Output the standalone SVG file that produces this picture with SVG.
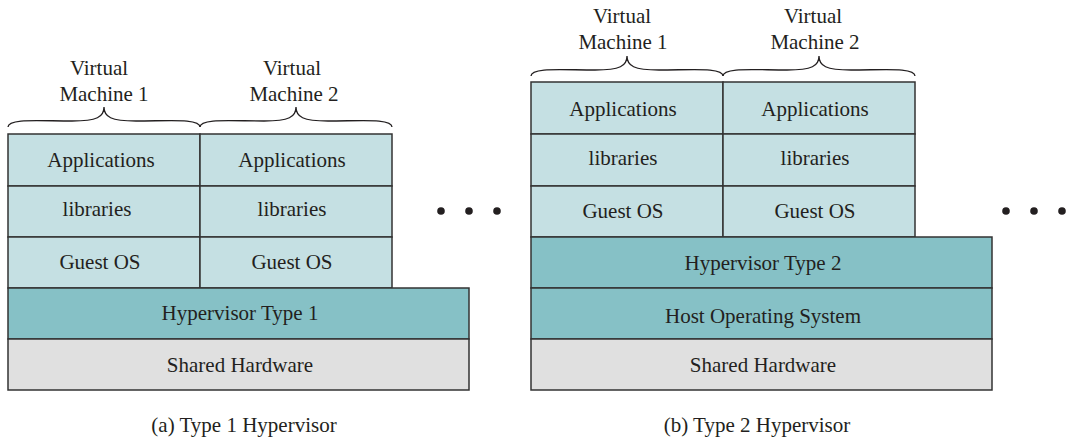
<svg xmlns="http://www.w3.org/2000/svg" width="1067" height="439" viewBox="0 0 1067 439">
<style>
.vm{fill:#c5e0e3;stroke:#333;stroke-width:1.5}
.hv{fill:#86c1c6;stroke:#333;stroke-width:1.5}
.hw{fill:#e0e0e0;stroke:#333;stroke-width:1.5}
text{font-family:"Liberation Serif","Times New Roman",serif;font-size:21px;fill:#231f20;text-anchor:middle}
.br{fill:none;stroke:#231f20;stroke-width:1.3}
.dot{fill:#231f20}
</style>
<rect width="1067" height="439" fill="#fff"/>
<g id="type1">
  <g id="a-vm1">
    <rect class="vm" x="8" y="134" width="192" height="52"/>
    <rect class="vm" x="8" y="186" width="192" height="51"/>
    <rect class="vm" x="8" y="237" width="192" height="51"/>
    <text x="101" y="167">Applications</text>
    <text x="97" y="216">libraries</text>
    <text x="100" y="269">Guest OS</text>
  </g>
  <g id="a-vm2">
    <rect class="vm" x="200" y="134" width="192" height="52"/>
    <rect class="vm" x="200" y="186" width="192" height="51"/>
    <rect class="vm" x="200" y="237" width="192" height="51"/>
    <text x="292" y="167">Applications</text>
    <text x="292" y="216">libraries</text>
    <text x="292" y="269">Guest OS</text>
  </g>
  <g id="a-hyp">
    <rect class="hv" x="8" y="288" width="461" height="51"/>
    <text x="240" y="320">Hypervisor Type 1</text>
  </g>
  <g id="a-hw">
    <rect class="hw" x="8" y="339" width="461" height="51"/>
    <text x="240" y="372">Shared Hardware</text>
  </g>
  <g id="a-labels">
    <text x="99" y="75">Virtual</text>
    <text x="104" y="101">Machine 1</text>
    <text x="292" y="75">Virtual</text>
    <text x="294" y="101">Machine 2</text>
    <path class="br" d="M8,127 C8,118 40,121 72,121 C97,121 104,117 104,107 C104,117 111,121 136,121 C168,121 200,118 200,127"/>
    <path class="br" d="M200,127 C200,118 232,121 264,121 C289,121 296,117 296,107 C296,117 303,121 328,121 C360,121 392,118 392,127"/>
  </g>
  <g id="a-dots">
    <circle class="dot" cx="441" cy="211" r="3.8"/>
    <circle class="dot" cx="469" cy="211" r="3.8"/>
    <circle class="dot" cx="497" cy="211" r="3.8"/>
  </g>
  <text x="244" y="432">(a) Type 1 Hypervisor</text>
</g>
<g id="type2">
  <g id="b-vm1">
    <rect class="vm" x="531" y="82" width="192" height="52"/>
    <rect class="vm" x="531" y="134" width="192" height="52"/>
    <rect class="vm" x="531" y="186" width="192" height="51"/>
    <text x="623" y="116">Applications</text>
    <text x="623" y="165">libraries</text>
    <text x="623" y="218">Guest OS</text>
  </g>
  <g id="b-vm2">
    <rect class="vm" x="723" y="82" width="192" height="52"/>
    <rect class="vm" x="723" y="134" width="192" height="52"/>
    <rect class="vm" x="723" y="186" width="192" height="51"/>
    <text x="815" y="116">Applications</text>
    <text x="815" y="165">libraries</text>
    <text x="815" y="218">Guest OS</text>
  </g>
  <g id="b-hyp">
    <rect class="hv" x="531" y="237" width="461" height="51"/>
    <text x="763" y="270">Hypervisor Type 2</text>
  </g>
  <g id="b-host">
    <rect class="hv" x="531" y="288" width="461" height="51"/>
    <text x="763" y="323">Host Operating System</text>
  </g>
  <g id="b-hw">
    <rect class="hw" x="531" y="339" width="461" height="51"/>
    <text x="763" y="372">Shared Hardware</text>
  </g>
  <g id="b-labels">
    <text x="622" y="23">Virtual</text>
    <text x="623" y="49">Machine 1</text>
    <text x="813" y="23">Virtual</text>
    <text x="815" y="49">Machine 2</text>
    <path class="br" d="M531,76 C531,67 563,70 595,70 C620,70 627,66 627,56 C627,66 634,70 659,70 C691,70 723,67 723,76"/>
    <path class="br" d="M723,76 C723,67 755,70 787,70 C812,70 819,66 819,56 C819,66 826,70 851,70 C883,70 915,67 915,76"/>
  </g>
  <g id="b-dots">
    <circle class="dot" cx="1006" cy="211" r="3.8"/>
    <circle class="dot" cx="1034" cy="211" r="3.8"/>
    <circle class="dot" cx="1062" cy="211" r="3.8"/>
  </g>
  <text x="757" y="432">(b) Type 2 Hypervisor</text>
</g>
</svg>
